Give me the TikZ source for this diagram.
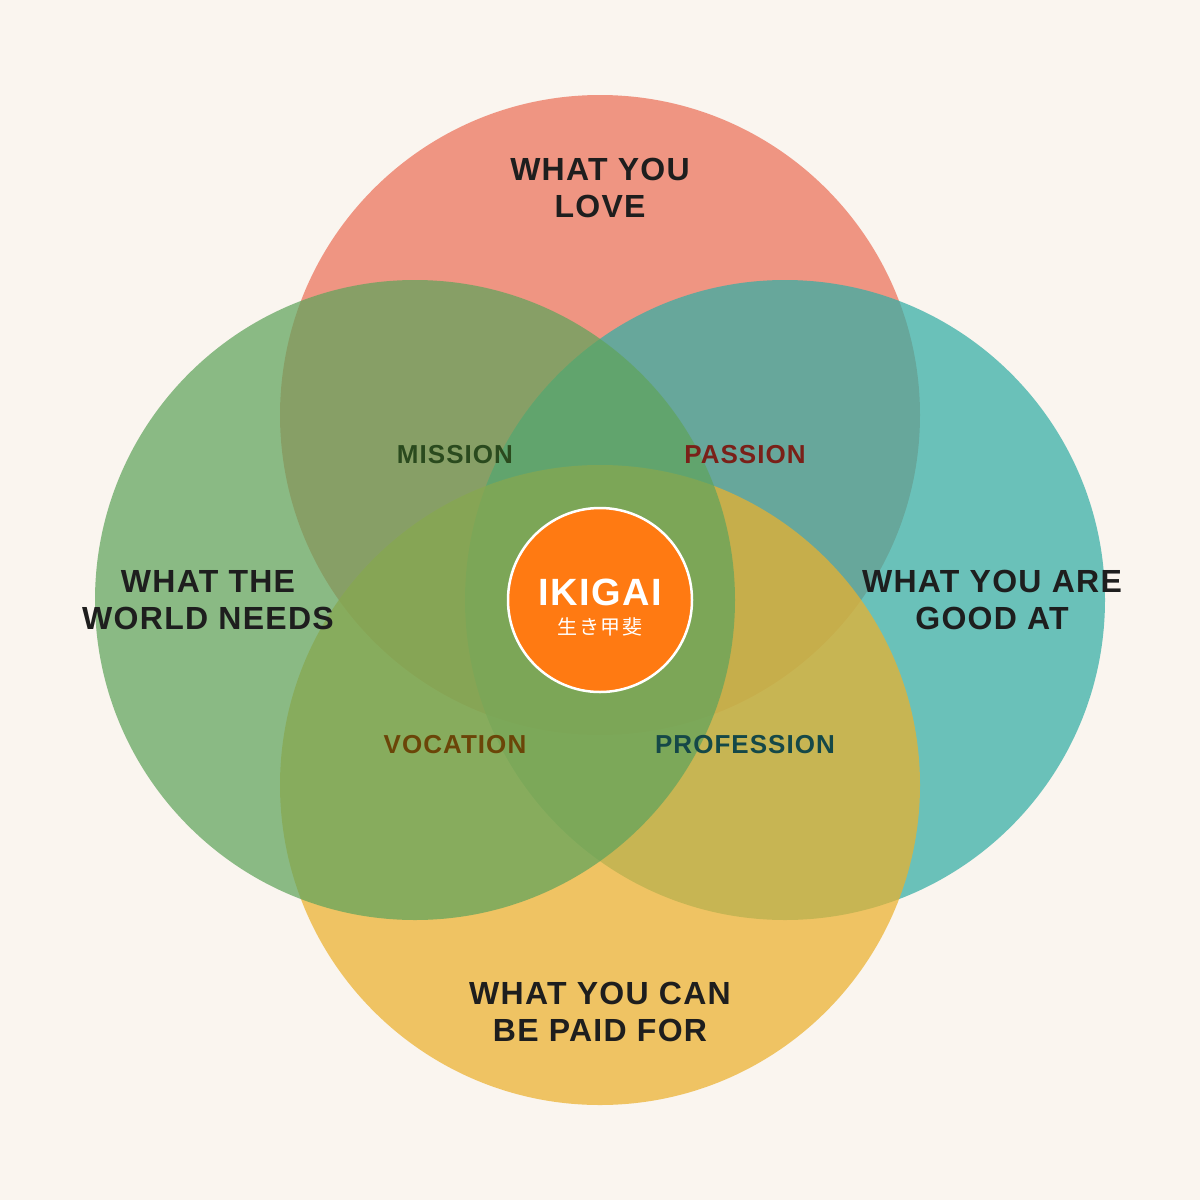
\documentclass[tikz,border=0pt]{standalone}
\usepackage{fontspec}
\setmainfont{Liberation Sans}[LetterSpace=4]
\newfontfamily\cjk{Noto Sans CJK JP}[LetterSpace=8]
\definecolor{bg}{HTML}{FAF5EF}
\definecolor{cTop}{RGB}{235,113,89}
\definecolor{cLeft}{RGB}{96,164,92}
\definecolor{cRight}{RGB}{51,174,165}
\definecolor{cBot}{RGB}{236,177,45}
\definecolor{ik}{HTML}{FF7A12}
\definecolor{txt}{HTML}{1E1E1E}
\definecolor{lmis}{HTML}{2A4A1E}
\definecolor{lpas}{HTML}{7A2018}
\definecolor{lvoc}{HTML}{6B4508}
\definecolor{lpro}{HTML}{154848}
\tikzset{
 petal/.style={circle,minimum size=640pt,inner sep=0pt,fill opacity=0.72},
 big/.style={font=\bfseries\fontsize{32}{37}\selectfont,text=txt,align=center},
 mid/.style={font=\bfseries\fontsize{26}{30}\selectfont}
}
\begin{document}
\begin{tikzpicture}[x=1pt,y=-1pt]
\fill[bg] (0,0) rectangle (1200,1200);
\useasboundingbox (0,0) rectangle (1200,1200);
\node[petal,fill=cTop] (ct) at (600,415) {};
\node[petal,fill=cRight] (cr) at (785,600) {};
\node[petal,fill=cBot] (cb) at (600,785) {};
\node[petal,fill=cLeft] (cl) at (415,600) {};
\node[circle,minimum size=184pt,inner sep=0pt,fill=ik,draw=white,line width=2.5pt] (ik) at (600,600) {};
\node[font=\bfseries\fontsize{38}{42}\selectfont,text=white] (ikt) at (600,592) {IKIGAI};
\node[font=\cjk\fontsize{20}{22}\selectfont,text=white] (ikj) at (600,627) {生き甲斐};
\node[big] (love) at (600,188) {WHAT YOU\\LOVE};
\node[big] (world) at (208,600) {WHAT THE\\WORLD NEEDS};
\node[big] (good) at (992,600) {WHAT YOU ARE\\GOOD AT};
\node[big] (paid) at (600,1012) {WHAT YOU CAN\\BE PAID FOR};
\node[mid,text=lmis] (mis) at (455,455) {MISSION};
\node[mid,text=lpas] (pas) at (745,455) {PASSION};
\node[mid,text=lvoc] (voc) at (455,745) {VOCATION};
\node[mid,text=lpro] (pro) at (745,745) {PROFESSION};
\end{tikzpicture}
\end{document}
